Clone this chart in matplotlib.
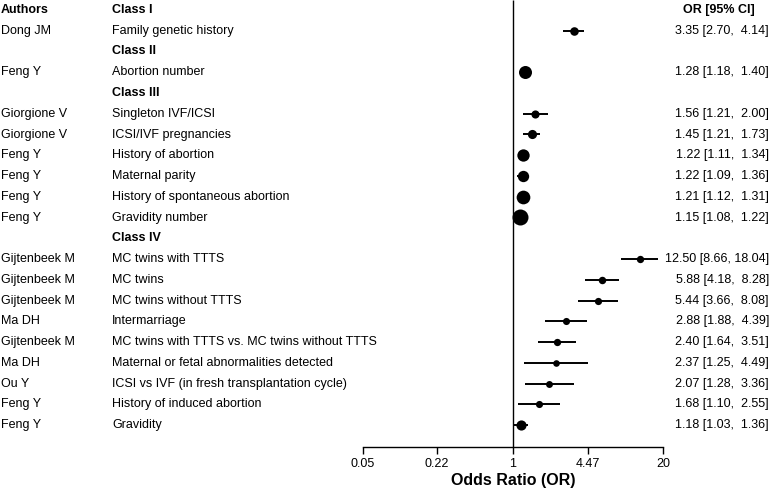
#!/usr/bin/env python3.12
"""Forest plot of odds ratios by risk class."""

from __future__ import annotations

import matplotlib

matplotlib.use("Agg")
import matplotlib.pyplot as plt
import matplotlib.ticker as mticker
import numpy as np

plt.rcParams["font.family"] = ["Liberation Sans", "DejaVu Sans"]

CLASSES = ["Class I", "Class II", "Class III", "Class IV"]
STUDY_CLASS = [0, 1, 2, 2, 2, 2, 2, 2, 3, 3, 3, 3, 3, 3, 3, 3, 3]
AUTHORS = [
    "Dong JM", "Feng Y", "Giorgione V", "Giorgione V", "Feng Y", "Feng Y",
    "Feng Y", "Feng Y", "Gijtenbeek M", "Gijtenbeek M", "Gijtenbeek M",
    "Ma DH", "Gijtenbeek M", "Ma DH", "Ou Y", "Feng Y", "Feng Y",
]
FACTORS = [
    "Family genetic history",
    "Abortion number",
    "Singleton IVF/ICSI",
    "ICSI/IVF pregnancies",
    "History of abortion",
    "Maternal parity",
    "History of spontaneous abortion",
    "Gravidity number",
    "MC twins with TTTS",
    "MC twins",
    "MC twins without TTTS",
    "Intermarriage",
    "MC twins with TTTS vs. MC twins without TTTS",
    "Maternal or fetal abnormalities detected",
    "ICSI vs IVF (in fresh transplantation cycle)",
    "History of induced abortion",
    "Gravidity",
]
OR = [3.35, 1.28, 1.56, 1.45, 1.22, 1.22, 1.21, 1.15,
      12.50, 5.88, 5.44, 2.88, 2.40, 2.37, 2.07, 1.68, 1.18]
LOWER = [2.70, 1.18, 1.21, 1.21, 1.11, 1.09, 1.12, 1.08,
         8.66, 4.18, 3.66, 1.88, 1.64, 1.25, 1.28, 1.10, 1.03]
UPPER = [4.14, 1.40, 2.00, 1.73, 1.34, 1.36, 1.31, 1.22,
         18.04, 8.28, 8.08, 4.39, 3.51, 4.49, 3.36, 2.55, 1.36]
TICKS = [0.05, 0.22, 1, 4.47, 20]
TICK_LABELS = ["0.05", "0.22", "1", "4.47", "20"]

W, H = 780, 490
ROW0_PX, ROW_PX = 10.0, 20.75   # pixel y of header row and row spacing
X1_PX, DEC_PX = 513.0, 115.4    # pixel x of OR=1 and pixels per decade


def px_to_x(px: float) -> float:
    return 10 ** ((px - X1_PX) / DEC_PX)


def px_to_row(px: float) -> float:
    return (px - ROW0_PX) / ROW_PX


def main() -> None:
    fig = plt.figure(figsize=(W / 100, H / 100), dpi=100)
    ax = fig.add_axes([0, 0, 1, 1])
    ax.set_xscale("log")
    ax.set_xlim(px_to_x(0), px_to_x(W))
    ax.set_ylim(px_to_row(H), px_to_row(0))

    fs = 9
    ax.text(px_to_x(1), 0, "Authors", fontsize=fs, fontweight="bold",
            va="center", ha="left")
    ax.text(px_to_x(683), 0, "OR [95% CI]", fontsize=fs, fontweight="bold",
            va="center", ha="left")

    # lay out rows: class heading, then its studies
    rows = []
    r = 0
    for c, name in enumerate(CLASSES):
        ax.text(px_to_x(112), r, name, fontsize=fs, fontweight="bold",
                va="center", ha="left")
        r += 1
        for i, sc in enumerate(STUDY_CLASS):
            if sc == c:
                rows.append((i, r))
                r += 1
    axis_row = px_to_row(447)

    est = np.array(OR)
    lb = np.array(LOWER)
    ub = np.array(UPPER)
    # marker size from precision (1/SE), scaled between smallest and largest
    wi = 1 / ((np.log(ub) - np.log(lb)) / (2 * 1.96))
    nrm = (wi - wi.min()) / (wi.max() - wi.min())
    diam_pt = (6.6 + 9.4 * nrm) * 0.72

    for i, row in rows:
        ax.hlines(row, lb[i], ub[i], color="black", lw=1.4)
        ax.plot(est[i], row, "o", color="black", ms=diam_pt[i], mew=0)
        ax.text(px_to_x(1), row, AUTHORS[i], fontsize=fs, va="center")
        ax.text(px_to_x(112), row, FACTORS[i], fontsize=fs, va="center")
        label = f"{est[i]:.2f} [{lb[i]:.2f}, {ub[i]:>5.2f}]"
        ax.text(px_to_x(769), row, label, fontsize=fs, va="center",
                ha="right")

    ax.vlines(1, px_to_row(0), axis_row, color="black", lw=1.0)

    for side in ("top", "left", "right"):
        ax.spines[side].set_visible(False)
    ax.spines["bottom"].set_position(("data", axis_row))
    ax.spines["bottom"].set_bounds(TICKS[0], TICKS[-1])
    ax.spines["bottom"].set_linewidth(1.0)
    ax.set_yticks([])
    ax.set_xticks(TICKS)
    ax.set_xticklabels(TICK_LABELS)
    ax.xaxis.set_minor_locator(mticker.NullLocator())
    ax.tick_params(axis="x", direction="out", length=5, width=1.0,
                   labelsize=fs, pad=3)
    ax.text(1, px_to_row(480), "Odds Ratio (OR)", fontsize=11.5,
            fontweight="bold", ha="center", va="center")

    fig.savefig("out.png", dpi=100, facecolor="white")


if __name__ == "__main__":
    main()
